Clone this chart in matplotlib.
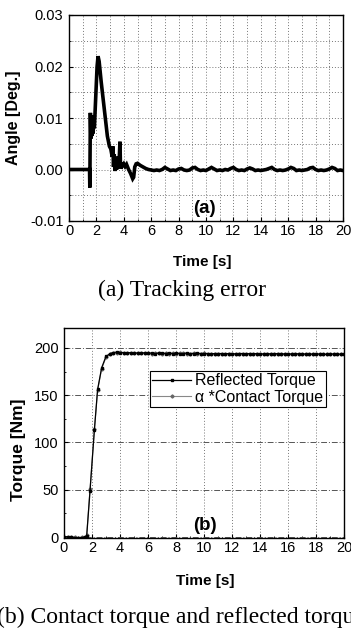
import numpy as np
import matplotlib
matplotlib.use('Agg')
import matplotlib.pyplot as plt
from matplotlib.ticker import MultipleLocator

plt.rcParams['font.family'] = ['Liberation Sans', 'DejaVu Sans']

# (a) tracking error, transient part
t_err = [0, 1.5, 1.52, 1.56, 1.6, 1.64, 1.68, 1.72, 1.76, 1.8,
         1.85, 1.95, 2.05, 2.12, 2.2, 2.35, 2.5, 2.65, 2.8, 2.95,
         3.05, 3.15, 3.2, 3.25, 3.3, 3.35, 3.42, 3.48, 3.55, 3.6,
         3.66, 3.72, 3.76, 3.82, 3.9, 4.0, 4.1, 4.2, 4.35, 4.5,
         4.65, 4.72, 4.8, 4.9, 5.0, 5.2, 5.4, 5.6, 5.8, 6.0]
err = [0, 0, -0.0035, 0.011, 0.006, 0.0105, 0.0065, 0.010, 0.007, 0.0095,
       0.008, 0.014, 0.020, 0.022, 0.021, 0.017, 0.0135, 0.010, 0.0065, 0.0045,
       0.004, 0.0025, 0.0045, 0.0005, 0.003, -0.0003, 0.002, 0.0, 0.0025, 0.0003,
       0.0015, 0.0054, 0.0002, 0.0012, 0.0007, 0.0011, 0.0006, 0.001, 0.0, -0.0008,
       -0.0018, -0.0015, 0.0005, 0.0011, 0.0012, 0.0008, 0.0005, 0.0002, 0.0, -0.0001]
# steady part, sampled every 0.2 s from 6.2 s
t_err_ss = np.round(np.arange(6.2, 20.01, 0.2), 1)
err_ss = [-0.0002, -0.0001, -0.0002, 0.0000, 0.0004, 0.0001, -0.0002, -0.0001, -0.0002, 0.0001,
          0.0002, -0.0001, -0.0002, -0.0001, 0.0003, 0.0004, 0.0000, -0.0002, -0.0001, -0.0002,
          0.0001, 0.0004, 0.0001, -0.0002, -0.0001, -0.0002, 0.0000, -0.0001, 0.0002, 0.0004,
          0.0000, -0.0002, -0.0001, -0.0002, 0.0001, 0.0003, 0.0001, -0.0002, -0.0001, -0.0002,
          -0.0001, 0.0000, 0.0002, 0.0004, 0.0000, -0.0002, -0.0001, -0.0002, -0.0001, 0.0001,
          0.0004, 0.0002, -0.0002, -0.0001, -0.0002, -0.0001, 0.0000, 0.0003, 0.0004, 0.0000,
          -0.0002, -0.0001, -0.0002, -0.0001, 0.0001, 0.0004, 0.0002, -0.0002, -0.0001, -0.0002]

# (b) torques
t_rise = [0, 0.25, 0.5, 0.75, 1.0, 1.25, 1.5, 1.62, 1.86, 2.17, 2.4, 2.69, 3.0, 3.3]
ref_rise = [0, 0.5, 0, -0.5, -1, -0.5, 0, 1, 49, 113, 156, 179, 191, 194]
con_rise = [0.5, 0, 0.5, 0, -0.5, 0, 0.5, 2, 51, 114, 155, 178, 190, 193.5]
t_flat = np.arange(3.5, 20.01, 0.25)
ref_flat = [195, 195.5, 195, 195, 194.5, 195, 194.5, 194.5, 195, 194.5,
            194.5, 194.5, 194, 194.5, 194.5, 194, 194.5, 194, 194.5, 194,
            194, 194.5, 194, 194, 194.5, 194, 194, 194, 193.5, 194,
            194, 194, 193.5, 194, 194, 193.5, 194, 194, 193.5, 194,
            193.5, 194, 193.5, 193.5, 194, 193.5, 193.5, 194, 193.5, 193.5,
            193.5, 193.5, 194, 193.5, 193.5, 193.5, 193, 193.5, 193.5, 193.5,
            193.5, 193, 193.5, 193.5, 193, 193.5, 193.5]
con_flat = [194.5, 195, 195.5, 194.5, 195, 194.5, 195, 194.5, 194.5, 195,
            194.5, 194, 194.5, 194.5, 194, 194.5, 194, 194.5, 194, 194.5,
            194.5, 194, 194, 194.5, 194, 194, 194.5, 193.5, 194, 194,
            193.5, 194, 194, 194, 193.5, 194, 193.5, 194, 194, 193.5,
            194, 193.5, 193.5, 194, 193.5, 194, 193.5, 193.5, 193.5, 194,
            193.5, 193.5, 193.5, 194, 193, 193.5, 193.5, 193.5, 193, 193.5,
            193.5, 193.5, 193, 193.5, 193.5, 193, 193.5]

t_tor = np.concatenate([t_rise, t_flat])
ref_tor = np.concatenate([ref_rise, ref_flat])
con_tor = np.concatenate([con_rise, con_flat])

W, H = 351, 629
fig = plt.figure(figsize=(W / 100, H / 100), dpi=100)

def style_axes(ax):
    ax.xaxis.set_major_locator(MultipleLocator(2))
    ax.xaxis.set_minor_locator(MultipleLocator(1))
    ax.tick_params(which='both', direction='in', labelsize=10.5)
    ax.tick_params(axis='x', pad=2)
    ax.tick_params(axis='y', pad=4)
    ax.tick_params(which='major', length=3)
    ax.tick_params(which='minor', length=1.5)
    for s in ax.spines.values():
        s.set_linewidth(1.0)
    ax.set_xlim(0, 20)
    ax.set_xlabel('Time [s]', fontsize=11, fontweight='bold')

# top plot
ax1 = fig.add_axes([69 / W, 1 - 221 / H, 274 / W, 206 / H])
ax1.plot(np.concatenate([t_err, t_err_ss]), np.concatenate([err, err_ss]),
         color='black', lw=2.6, solid_joinstyle='miter')
ax1.set_ylim(-0.01, 0.03)
ax1.yaxis.set_minor_locator(MultipleLocator(0.005))
ax1.set_yticks([-0.01, 0.0, 0.01, 0.02, 0.03])
ax1.set_yticklabels(['-0.01', '0.00', '0.01', '0.02', '0.03'])
ax1.grid(which='both', color='#777777', ls=(0, (1, 2)), lw=0.7)
style_axes(ax1)
ax1.xaxis.set_label_coords(0.485, -0.165)
ax1.set_ylabel('Angle [Deg.]', fontsize=11.5, fontweight='bold')
ax1.yaxis.set_label_coords(-48 / 274, 0.5)
ax1.text(9.85, -0.0075, '(a)', fontsize=13.5, fontweight='bold', ha='center', va='center')

# bottom plot
ax2 = fig.add_axes([64 / W, 1 - 538 / H, 280 / W, 210 / H])
ax2.plot(t_tor, con_tor, color='#888888', lw=0.8, marker='D', ms=1.6,
         mfc='#666666', mec='#666666', label='\u03b1 *Contact Torque')
ax2.plot(t_tor, ref_tor, color='black', lw=0.9, marker='s', ms=2.0,
         label='Reflected Torque')
ax2.set_ylim(-1, 221)
ax2.yaxis.set_major_locator(MultipleLocator(50))
ax2.yaxis.set_minor_locator(MultipleLocator(25))
ax2.grid(which='major', axis='x', color='#777777', ls=(0, (1, 2)), lw=0.7)
ax2.grid(which='major', axis='y', color='#555555', ls=(0, (6, 2, 1, 2)), lw=0.7)
style_axes(ax2)
ax2.xaxis.set_label_coords(0.504, -0.171)
ax2.set_ylabel('Torque [Nm]', fontsize=12.5, fontweight='bold')
ax2.yaxis.set_label_coords(-38 / 280, 0.42)
ax2.text(10.1, 12, '(b)', fontsize=13.5, fontweight='bold', ha='center', va='center')
h, l = ax2.get_legend_handles_labels()
leg = ax2.legend(h[::-1], l[::-1], loc='upper left', bbox_to_anchor=(0.307, 0.795),
                 fontsize=11.5, frameon=True, fancybox=False, framealpha=1,
                 edgecolor='black', borderpad=0.15, handlelength=2.4,
                 handletextpad=0.3, labelspacing=0.1, borderaxespad=0)
leg.get_frame().set_linewidth(0.8)

# captions
fig.text(182 / W, 1 - 290 / H, '(a) Tracking error', fontsize=17,
         family='Liberation Serif', ha='center', va='center')
fig.text(-3 / W, 1 - 617 / H, '(b) Contact torque and reflected torque', fontsize=17,
         family='Liberation Serif', ha='left', va='center')

fig.savefig('out.png', dpi=100)
